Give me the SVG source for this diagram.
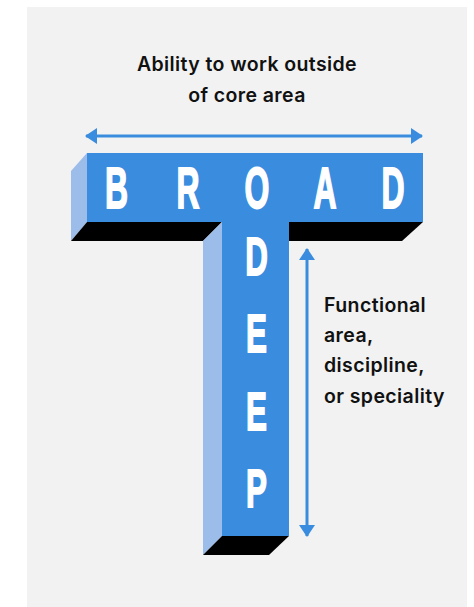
<svg xmlns="http://www.w3.org/2000/svg" width="474" height="607" viewBox="0 0 474 607">
<defs>
<style>
.front{fill:#3a8dde}
.side{fill:#9cbce9}
.shadow{fill:#000}
.letter{font-family:"Liberation Sans",Arial,sans-serif;font-weight:700;fill:#fff;stroke:#fff;stroke-width:1.8;text-anchor:middle}
.big{font-size:57px}
.mid{font-size:54px}
.label{font-family:Inter,"Open Sans",sans-serif;font-weight:600;font-size:19.5px;letter-spacing:0.4px;fill:#111}
.conn{stroke:#3a8dde;stroke-width:3;fill:none}
</style>
<marker id="ah" viewBox="0 0 12 16" refX="11" refY="8" markerWidth="12" markerHeight="16" markerUnits="userSpaceOnUse" orient="auto-start-reverse">
<path d="M0,0 L12,8 L0,16 Z" fill="#3a8dde"/>
</marker>
</defs>
<rect x="0" y="0" width="474" height="607" fill="#fff"/>
<rect x="27" y="7" width="440" height="600" fill="#f2f2f2"/>

<g id="t-shape">
<polygon class="side" points="87,153 71,171 71,241 87,222"/>
<polygon class="shadow" points="87,222 222,222 203,241 71,241"/>
<polygon class="shadow" points="289,222 423,222 402,241 289,241"/>
<polygon class="side" points="222,222 203,241 203,555 222,536"/>
<polygon class="shadow" points="222,536 289,536 269,555 203,555"/>
<path class="front" d="M87,153 H423 V222 H289 V536 H222 V222 H87 Z"/>
</g>

<g id="broad">
<text class="letter big" transform="translate(116.5,208) scale(0.56,1)">B</text>
<text class="letter big" transform="translate(188,208) scale(0.56,1)">R</text>
<text class="letter big" transform="translate(257,208) scale(0.56,1)">O</text>
<text class="letter big" transform="translate(325,208) scale(0.56,1)">A</text>
<text class="letter big" transform="translate(393,208) scale(0.56,1)">D</text>
</g>

<g id="deep">
<text class="letter mid" transform="translate(256.5,275) scale(0.58,1)">D</text>
<text class="letter mid" transform="translate(256.5,352) scale(0.58,1)">E</text>
<text class="letter mid" transform="translate(256.5,430) scale(0.58,1)">E</text>
<text class="letter mid" transform="translate(256.5,507) scale(0.58,1)">P</text>
</g>

<g id="connectors">
<line class="conn" x1="86" y1="136" x2="422" y2="136" marker-start="url(#ah)" marker-end="url(#ah)"/>
<line class="conn" x1="307" y1="249" x2="307" y2="536" marker-start="url(#ah)" marker-end="url(#ah)"/>
</g>

<g id="label-broad">
<text class="label" x="247" y="71" text-anchor="middle">Ability to work outside</text>
<text class="label" x="247" y="102" text-anchor="middle">of core area</text>
</g>

<g id="label-deep">
<text class="label" x="324" y="312">Functional</text>
<text class="label" x="324" y="342">area,</text>
<text class="label" x="324" y="372">discipline,</text>
<text class="label" x="324" y="403">or speciality</text>
</g>
</svg>
